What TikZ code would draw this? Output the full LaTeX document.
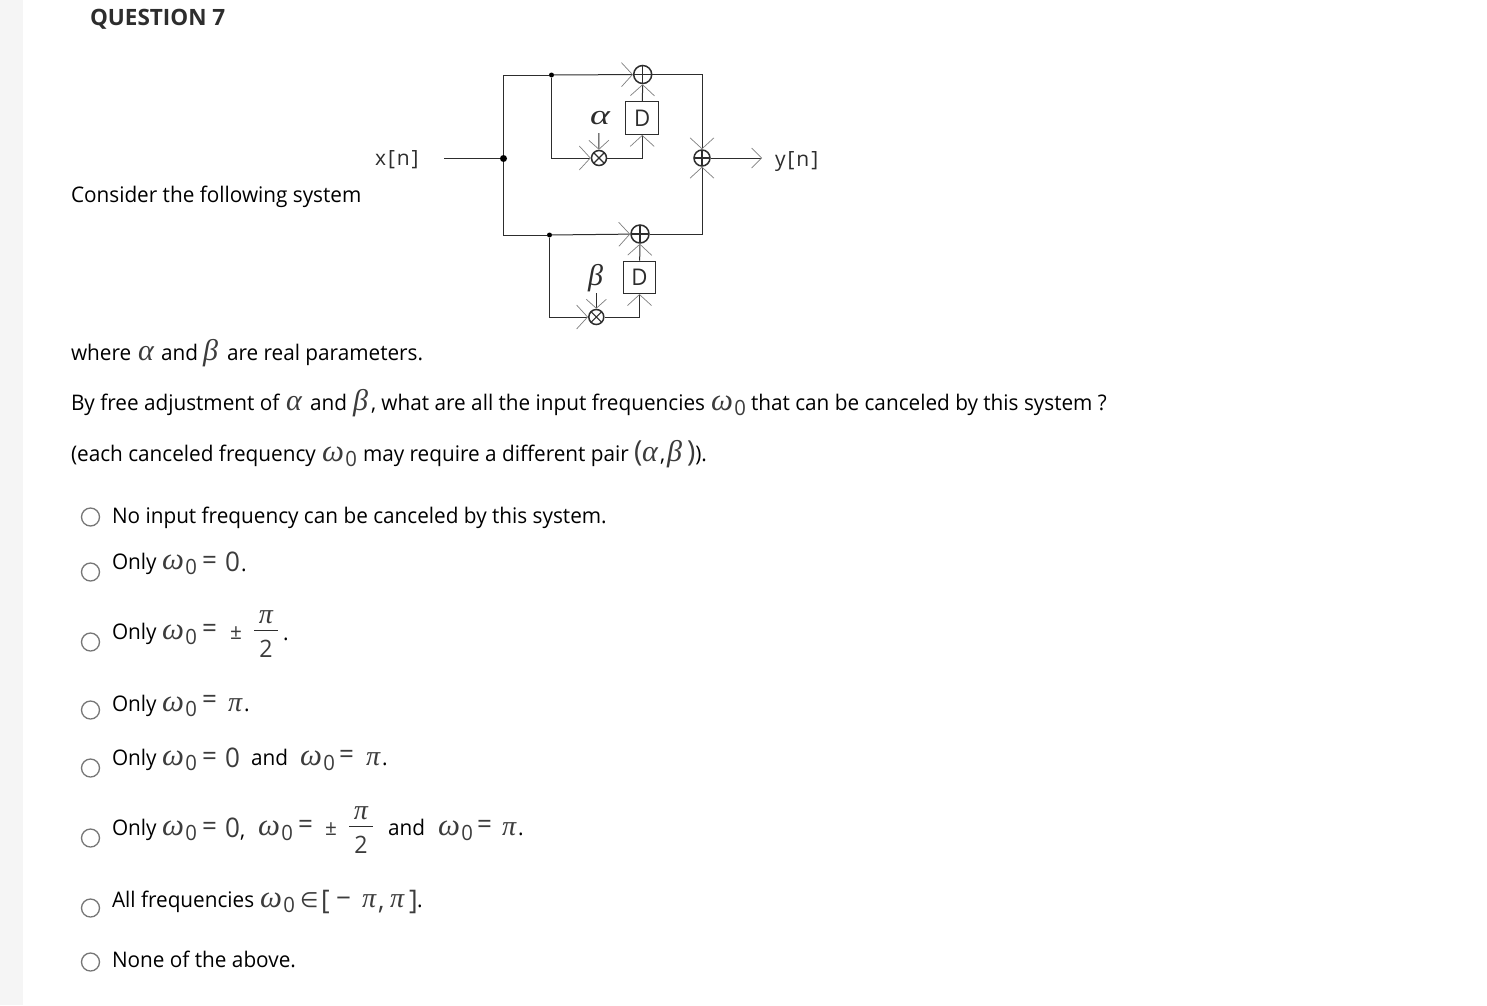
\documentclass[tikz,border=0pt]{standalone}
\usepackage{fontspec}
\setmainfont[FakeStretch=0.965]{Open Sans}
\newfontfamily\plainf{Open Sans}
\newfontfamily\gk{Liberation Serif}
\newfontfamily\djv{DejaVu Sans}
\usetikzlibrary{arrows.meta}
\definecolor{ink}{HTML}{2D2D2D}
\definecolor{mathc}{HTML}{3C3C3C}
\definecolor{radioc}{HTML}{767676}
\newcommand{\fs}{\fontsize{21.5}{26}\selectfont}
\newcommand{\gal}{{\color{mathc}\fontsize{30}{30}\gk\itshape α}}
\newcommand{\gbe}{{\color{mathc}\fontsize{30}{30}\gk\itshape β}}
\newcommand{\gpi}{{\color{mathc}\fontsize{28}{30}\gk\itshape π}}
\newcommand{\om}{{\color{mathc}\fontsize{31}{30}\gk\itshape ω\hspace{1.5pt}\raisebox{-5pt}{\upshape\fontsize{21}{24}\rmfamily 0}}}
\newcommand{\mopen}{\color{mathc}\fontsize{27}{28}\selectfont}
\newcommand{\lab}[4]{\node[txt] (#1) at (#2,#3) {#4};}
\tikzset{
  x=1pt,y=-1pt,
  txt/.style={anchor=base west,inner sep=0pt,outer sep=0pt,text=black,font=\fs},
  hand/.style={anchor=base west,inner sep=0pt,text=ink,font=\fontsize{21}{24}\plainf\addfontfeature{LetterSpace=9}},
  wire/.style={draw=ink,line width=1pt},
  sig/.style={wire,-{Straight Barb[length=11pt,width=24pt,line width=.7pt,color=gray]}},
  dot/.style={circle,fill=black,inner sep=0pt,minimum size=#1},
  delaybox/.style={draw=ink,line width=1pt,minimum size=32.5pt,inner sep=0pt,font=\fontsize{23}{24}\selectfont,text=ink},
  adder/.style={circle,draw=ink,line width=1.5pt,minimum size=#1,inner sep=0pt,
    path picture={\draw[ink,line width=1.1pt] (path picture bounding box.north)--(path picture bounding box.south)
      (path picture bounding box.west)--(path picture bounding box.east);}},
  mult/.style={circle,draw=ink,line width=1.5pt,minimum size=#1,inner sep=0pt,
    path picture={\draw[ink,line width=1.1pt] (path picture bounding box.north west)--(path picture bounding box.south east)
      (path picture bounding box.south west)--(path picture bounding box.north east);}},
  radio/.style={circle,draw=radioc,line width=1.3pt,fill=white,minimum size=18pt,inner sep=0pt}
}
\begin{document}
\begin{tikzpicture}
\useasboundingbox (0,0) rectangle (1487,1005);
\fill[white] (0,0) rectangle (1487,1005);
\fill[black!4] (0,0) rectangle (23,1005);
% diagram
\coordinate (in) at (444,158.5);
\node[dot=7pt] (j0) at (503.5,158.5) {};
\node[dot=5pt] (j1) at (551.5,75) {};
\node[dot=5pt] (j2) at (549.5,235) {};
\node[adder=18pt] (a1) at (642.7,74.5) {};
\node[adder=18pt] (a2) at (640,234) {};
\node[adder=16pt] (a3) at (702,158) {};
\node[mult=15pt] (m1) at (599,158) {};
\node[mult=15pt] (m2) at (596.3,317) {};
\node[delaybox] (d1) at (642.2,118.2) {D};
\node[delaybox] (d2) at (639.5,277.3) {D};
\coordinate (out) at (762,158);
\coordinate (ca) at (598.8,133);
\coordinate (cb) at (596.3,293);
\draw[wire] (in) -- (j0);
\draw[wire] (j0) |- (j1);
\draw[wire] (j0) |- (j2);
\draw[sig] (j1) -- (a1);
\draw[sig] (j2) -- (a2);
\draw[sig] (j1) |- (m1);
\draw[sig] (j2) |- (m2);
\draw[sig] (m1) -| (d1);
\draw[sig] (m2) -| (d2);
\draw[sig] (d1) -- (a1);
\draw[sig] (d2) -- (a2);
\draw[sig] (a1) -| (a3);
\draw[sig] (a2) -| (a3);
\draw[wire,-{Straight Barb[length=10pt,width=20pt,line width=.7pt,color=gray]}] (a3) -- (out);
\draw[wire,-{Straight Barb[length=9pt,width=20pt,line width=.7pt,color=gray]}] (ca) -- (m1);
\draw[wire,-{Straight Barb[length=9pt,width=20pt,line width=.7pt,color=gray]}] (cb) -- (m2);
\node[hand] (xn) at (375,165) {x[n]};
\node[hand] (yn) at (775,166) {y[n]};
\node[inner sep=0pt,text=ink,xscale=1.35,transform shape,font=\fontsize{28}{28}\gk\itshape] (la) at (600,118) {α};
\node[inner sep=0pt,text=ink,font=\fontsize{30}{30}\gk\itshape] (lb) at (595.5,278) {β};
% text
\node[txt,text=ink,font=\fontsize{22.5}{26}\plainf\bfseries] (title) at (90,25) {QUESTION 7};
\lab{t1}{71}{202}{Consider the following system}
\lab{t2a}{71}{360}{where}
\lab{t2b}{138}{360}{\gal}
\lab{t2c}{161}{360}{and}
\lab{t2d}{203}{360}{\gbe}
\lab{t2e}{227}{360}{are real parameters.}
\lab{t3a}{71}{410}{By free adjustment of}
\lab{t3b}{286}{410}{\gal}
\lab{t3c}{310}{410}{and}
\lab{t3d}{353}{410}{\gbe}
\lab{t3e}{371}{410}{, what are all the input frequencies}
\lab{t3f}{711}{410}{\om}
\lab{t3g}{751}{410}{that can be canceled by this system ?}
\lab{t4a}{71}{461}{(each canceled frequency}
\lab{t4b}{322}{461}{\om}
\lab{t4c}{363}{461}{may require a different pair}
\lab{t4d}{634}{461}{{\color{mathc}\fontsize{29}{30}\selectfont(}}
\lab{t4e}{642}{461}{\gal}
\lab{t4f}{660}{461}{,}
\lab{t4g}{667}{461}{\gbe}
\lab{t4h}{687}{461}{{\color{mathc}\fontsize{29}{30}\selectfont)}).}
\lab{o1}{112}{523}{No input frequency can be canceled by this system.}
% option 2
\lab{o2a}{112}{569}{Only}
\lab{o2b}{162}{569}{\om}
\lab{o2c}{202}{569}{{\mopen =}}
\lab{o2d}{225}{571}{{\mopen 0}}
\lab{o2e}{241}{571}{.}
% option 3
\lab{o3a}{112}{639}{Only}
\lab{o3b}{162}{639}{\om}
\lab{o3c}{202}{637}{{\mopen =}}
\lab{o3d}{230}{639}{{\color{mathc}±}}
\node[txt,anchor=base] (pi1) at (266,623) {\gpi};
\draw[ink,line width=.9pt] (254,630) -- (278,630);
\node[txt,text=mathc,anchor=base,font=\fontsize{24}{26}\selectfont] (two1) at (266,657) {2};
\lab{dot1}{283}{640}{.}
% option 4
\lab{o4a}{112}{711}{Only}
\lab{o4b}{162}{711}{\om}
\lab{o4c}{202}{708}{{\mopen =}}
\lab{o4d}{228}{711}{\gpi}
\lab{o4e}{244}{711}{.}
% option 5
\lab{o5a}{112}{765}{Only}
\lab{o5b}{162}{765}{\om}
\lab{o5c}{202}{765}{{\mopen =}}
\lab{o5d}{225}{767}{{\mopen 0}}
\lab{o5e}{251}{765}{and}
\lab{o5f}{300}{765}{\om}
\lab{o5g}{339}{763}{{\mopen =}}
\lab{o5h}{366}{765}{\gpi}
\lab{o5i}{382}{765}{.}
% option 6
\lab{o6a}{112}{835}{Only}
\lab{o6b}{162}{835}{\om}
\lab{o6c}{202}{835}{{\mopen =}}
\lab{o6d}{225}{837}{{\mopen 0}}
\lab{o6e}{240}{837}{,}
\lab{o6f}{258}{835}{\om}
\lab{o6g}{298}{833}{{\mopen =}}
\lab{o6h}{325}{835}{{\color{mathc}±}}
\node[txt,anchor=base] (pi2) at (361,819) {\gpi};
\draw[ink,line width=.9pt] (349,826) -- (373,826);
\node[txt,text=mathc,anchor=base,font=\fontsize{24}{26}\selectfont] (two2) at (361,853) {2};
\lab{o6i}{388}{835}{and}
\lab{o6j}{438}{835}{\om}
\lab{o6k}{477}{833}{{\mopen =}}
\lab{o6l}{502}{835}{\gpi}
\lab{o6m}{518}{835}{.}
% option 7
\lab{o7a}{112}{907}{All frequencies}
\lab{o7b}{260}{907}{\om}
\lab{o7c}{300}{907}{{\color{mathc}\fontsize{21}{24}\djv ∈}}
\lab{o7d}{321}{909}{{\mopen [}}
\lab{o7e}{336}{907}{{\mopen −}}
\lab{o7f}{362}{907}{\gpi}
\lab{o7g}{378}{909}{{\mopen ,}}
\lab{o7h}{390}{907}{\gpi}
\lab{o7i}{409}{909}{{\mopen ]}}
\lab{o7j}{417}{907}{.}
\lab{o8}{112}{967}{None of the above.}
\foreach \n/\y in {1/517,2/572,3/642,4/710,5/768,6/838,7/908,8/962}{\node[radio] (r\n) at (90.5,\y) {};}
\end{tikzpicture}
\end{document}
